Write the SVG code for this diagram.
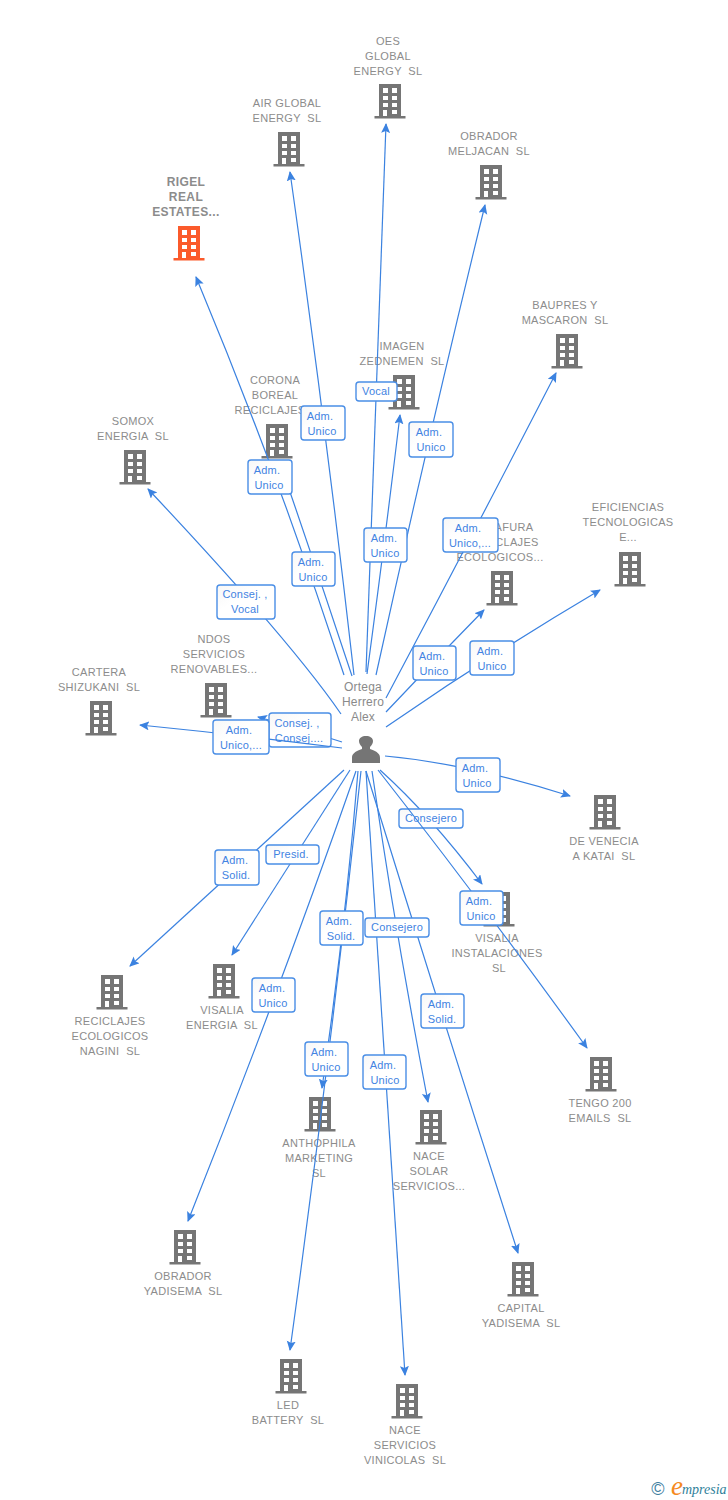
<svg xmlns="http://www.w3.org/2000/svg" width="728" height="1500" viewBox="0 0 728 1500">
<style>
text{font-family:"Liberation Sans",Arial,sans-serif}
.n{font-size:11px;fill:#8c8c8c;text-anchor:middle;letter-spacing:.3px;white-space:pre}
.r{font-size:12px;font-weight:bold;fill:#8c8c8c;text-anchor:middle;letter-spacing:.4px}
.p{font-size:12px;fill:#8a8a8a;text-anchor:middle;letter-spacing:.2px}
.l{fill:none;stroke:#3b82e0;stroke-width:1.2;marker-end:url(#a)}
.b{fill:url(#g);stroke:#4a8ee6;stroke-width:1.4}
.t{font-size:11px;fill:#4283e2;text-anchor:middle;letter-spacing:.2px}
</style>
<defs>
<linearGradient id="g" x1="0" y1="0" x2="1" y2="1"><stop offset="0" stop-color="#f7f7f7"/><stop offset=".4" stop-color="#fff"/></linearGradient>
<marker id="a" markerUnits="userSpaceOnUse" markerWidth="12" markerHeight="10" refX="9" refY="4.5" orient="auto"><path d="M0 0L10 4.5L0 9L2 4.5Z" fill="#3b82e0"/></marker>
<g id="bld">
<path fill-rule="evenodd" d="M-11 0H11V32H15.500V34.500H-15.500V32H-11ZM-7 4V9H-2V4ZM2 4V9H7V4ZM-7 12V16H-2V12ZM2 12V16H7V12ZM-7 19V23H-2V19ZM2 19V23H7V19ZM-7 26V32H-3V26ZM2 26V30H7V26Z"/>
</g>
</defs>
<rect width="728" height="1500" fill="#fff"/>
<g id="nodes">
<g id="n-oes" fill="#757575"><text class="n" x="388" y="45">OES</text><text class="n" x="388" y="60">GLOBAL</text><text class="n" x="388" y="75">ENERGY  SL</text><use href="#bld" x="390" y="84"/></g>
<g id="n-air" fill="#757575"><text class="n" x="287" y="107">AIR GLOBAL</text><text class="n" x="287" y="122">ENERGY  SL</text><use href="#bld" x="289" y="132"/></g>
<g id="n-meljacan" fill="#757575"><text class="n" x="489" y="140">OBRADOR</text><text class="n" x="489" y="155">MELJACAN  SL</text><use href="#bld" x="491" y="165"/></g>
<g id="n-rigel" fill="#fb5a2b"><text class="r" x="186" y="186">RIGEL</text><text class="r" x="186" y="201">REAL</text><text class="r" x="186" y="216">ESTATES...</text><use href="#bld" x="189" y="226"/></g>
<g id="n-baupres" fill="#757575"><text class="n" x="565" y="309">BAUPRES Y</text><text class="n" x="565" y="324">MASCARON  SL</text><use href="#bld" x="567" y="334"/></g>
<g id="n-imagen" fill="#757575"><text class="n" x="402" y="350">IMAGEN</text><text class="n" x="402" y="365">ZEDNEMEN  SL</text><use href="#bld" x="404" y="375"/></g>
<g id="n-corona" fill="#757575"><text class="n" x="275" y="384">CORONA</text><text class="n" x="275" y="399">BOREAL</text><text class="n" x="270" y="414">RECICLAJES</text><use href="#bld" x="277" y="424"/></g>
<g id="n-somox" fill="#757575"><text class="n" x="133" y="425">SOMOX</text><text class="n" x="133" y="440">ENERGIA  SL</text><use href="#bld" x="135" y="450"/></g>
<g id="n-afura" fill="#757575"><text class="n" x="514" y="531">AFURA</text><text class="n" x="517" y="546">CLAJES</text><text class="n" x="500" y="561">ECOLOGICOS...</text><use href="#bld" x="502" y="571"/></g>
<g id="n-eficiencias" fill="#757575"><text class="n" x="628" y="511">EFICIENCIAS</text><text class="n" x="628" y="526">TECNOLOGICAS</text><text class="n" x="628" y="541">E...</text><use href="#bld" x="630" y="552"/></g>
<g id="n-ndos" fill="#757575"><text class="n" x="214" y="643">NDOS</text><text class="n" x="214" y="658">SERVICIOS</text><text class="n" x="214" y="673">RENOVABLES...</text><use href="#bld" x="216" y="683"/></g>
<g id="n-cartera" fill="#757575"><text class="n" x="99" y="676">CARTERA</text><text class="n" x="99" y="691">SHIZUKANI  SL</text><use href="#bld" x="101" y="701"/></g>
<g id="n-venecia" fill="#757575"><use href="#bld" x="605" y="795"/><text class="n" x="604" y="845">DE VENECIA</text><text class="n" x="604" y="860">A KATAI  SL</text></g>
<g id="n-visalia-inst" fill="#757575"><use href="#bld" x="499" y="892"/><text class="n" x="497" y="942">VISALIA</text><text class="n" x="497" y="957">INSTALACIONES</text><text class="n" x="499" y="972">SL</text></g>
<g id="n-nagini" fill="#757575"><use href="#bld" x="112" y="975"/><text class="n" x="110" y="1025">RECICLAJES</text><text class="n" x="110" y="1040">ECOLOGICOS</text><text class="n" x="110" y="1055">NAGINI  SL</text></g>
<g id="n-visalia-en" fill="#757575"><use href="#bld" x="224" y="964"/><text class="n" x="222" y="1014">VISALIA</text><text class="n" x="222" y="1029">ENERGIA  SL</text></g>
<g id="n-tengo" fill="#757575"><use href="#bld" x="601" y="1057"/><text class="n" x="600" y="1107">TENGO 200</text><text class="n" x="600" y="1122">EMAILS  SL</text></g>
<g id="n-anthophila" fill="#757575"><use href="#bld" x="320" y="1097"/><text class="n" x="319" y="1147">ANTHOPHILA</text><text class="n" x="319" y="1162">MARKETING</text><text class="n" x="319" y="1177">SL</text></g>
<g id="n-nace-solar" fill="#757575"><use href="#bld" x="431" y="1110"/><text class="n" x="429" y="1160">NACE</text><text class="n" x="429" y="1175">SOLAR</text><text class="n" x="429" y="1190">SERVICIOS...</text></g>
<g id="n-obrador-yad" fill="#757575"><use href="#bld" x="185" y="1230"/><text class="n" x="183" y="1280">OBRADOR</text><text class="n" x="183" y="1295">YADISEMA  SL</text></g>
<g id="n-capital" fill="#757575"><use href="#bld" x="523" y="1262"/><text class="n" x="521" y="1312">CAPITAL</text><text class="n" x="521" y="1327">YADISEMA  SL</text></g>
<g id="n-led" fill="#757575"><use href="#bld" x="291" y="1359"/><text class="n" x="288" y="1409">LED</text><text class="n" x="288" y="1424">BATTERY  SL</text></g>
<g id="n-nace-vin" fill="#757575"><use href="#bld" x="407" y="1384"/><text class="n" x="405" y="1434">NACE</text><text class="n" x="405" y="1449">SERVICIOS</text><text class="n" x="405" y="1464">VINICOLAS  SL</text></g>
<g id="n-ortega" fill="#757575"><text class="p" x="363" y="691">Ortega</text><text class="p" x="363" y="706">Herrero</text><text class="p" x="363" y="721">Alex</text>
<path d="M352 763V758C352 754 354 752 362 749V747C360 745 359 743 359 741C359 738 362 736 366 736C370 736 373 738 373 741C373 743 372 745 370 747V749C378 752 380 754 380 758V763Z"/></g>
</g>
<g id="connectors">
<path class="l" d="M366 672Q375 400 386 124"/>
<path class="l" d="M354 675Q325 420 290 172"/>
<path class="l" d="M376 675Q430 430 485 205"/>
<path class="l" d="M344 675Q279 476 196 277"/>
<path class="l" d="M386 698Q470 540 556 373"/>
<path class="l" d="M367 674Q385 540 400 415"/>
<path class="l" d="M352 676Q317 570 280 463"/>
<path class="l" d="M341 714Q290 640 148 489"/>
<path class="l" d="M386 712Q435 660 484 610"/>
<path class="l" d="M386 727Q490 655 600 590"/>
<path class="l" d="M342 742Q300 728 258 717"/>
<g id="labels-a">
<rect class="b" x="356" y="382" width="41" height="19" rx="3"/><text class="t" x="376" y="395">Vocal</text>
<rect class="b" x="301" y="406" width="44" height="34" rx="3"/><text class="t" x="320" y="420">Adm.</text><text class="t" x="322" y="435">Unico</text>
<rect class="b" x="248" y="460" width="44" height="34" rx="3"/><text class="t" x="267" y="474">Adm.</text><text class="t" x="269" y="489">Unico</text>
<rect class="b" x="409" y="422" width="44" height="35" rx="3"/><text class="t" x="429" y="436">Adm.</text><text class="t" x="431" y="451">Unico</text>
<rect class="b" x="364" y="528" width="43" height="34" rx="3"/><text class="t" x="384" y="542">Adm.</text><text class="t" x="385" y="557">Unico</text>
<rect class="b" x="292" y="552" width="43" height="34" rx="3"/><text class="t" x="311" y="566">Adm.</text><text class="t" x="313" y="581">Unico</text>
<rect class="b" x="443" y="518" width="55" height="34" rx="3"/><text class="t" x="468" y="532">Adm.</text><text class="t" x="470" y="547">Unico,...</text>
<rect class="b" x="217" y="585" width="58" height="34" rx="3"/><text class="t" x="245" y="598">Consej. ,</text><text class="t" x="245" y="613">Vocal</text>
<rect class="b" x="413" y="646" width="43" height="34" rx="3"/><text class="t" x="432" y="660">Adm.</text><text class="t" x="434" y="675">Unico</text>
<rect class="b" x="470" y="641" width="44" height="34" rx="3"/><text class="t" x="490" y="655">Adm.</text><text class="t" x="492" y="670">Unico</text>
<rect class="b" x="269" y="713" width="62" height="34" rx="3"/><text class="t" x="297" y="727">Consej. ,</text><text class="t" x="299" y="742">Consej....</text>
</g>
<path class="l" d="M342 748Q240 735 140 725"/>
<path class="l" d="M385 756Q470 764 570 796"/>
<path class="l" d="M380 770Q430 815 482 884"/>
<path class="l" d="M344 770L130 966"/>
<path class="l" d="M350 770L232 955"/>
<path class="l" d="M358 771Q345 930 322 1088"/>
<path class="l" d="M372 771Q395 930 428 1102"/>
<path class="l" d="M356 771Q280 990 188 1221"/>
<path class="l" d="M366 771Q440 1010 518 1253"/>
<path class="l" d="M361 771Q330 1060 290 1350"/>
<path class="l" d="M366 771Q385 1070 405 1375"/>
<g id="labels-b">
<rect class="b" x="213" y="720" width="56" height="34" rx="3"/><text class="t" x="239" y="734">Adm.</text><text class="t" x="241" y="749">Unico,...</text>
<rect class="b" x="456" y="758" width="44" height="34" rx="3"/><text class="t" x="475" y="772">Adm.</text><text class="t" x="477" y="787">Unico</text>
<rect class="b" x="399" y="809" width="64" height="19" rx="3"/><text class="t" x="431" y="822">Consejero</text>
</g>
<path class="l" d="M378 770Q480 900 587 1048"/>
<g id="labels-c">
<rect class="b" x="460" y="891" width="43" height="34" rx="3"/><text class="t" x="479" y="905">Adm.</text><text class="t" x="481" y="920">Unico</text>
<rect class="b" x="266" y="845" width="53" height="19" rx="3"/><text class="t" x="291" y="858">Presid.</text>
<rect class="b" x="215" y="850" width="44" height="35" rx="3"/><text class="t" x="235" y="864">Adm.</text><text class="t" x="236" y="879">Solid.</text>
<rect class="b" x="320" y="911" width="43" height="34" rx="3"/><text class="t" x="339" y="925">Adm.</text><text class="t" x="341" y="940">Solid.</text>
<rect class="b" x="365" y="918" width="64" height="19" rx="3"/><text class="t" x="397" y="931">Consejero</text>
<rect class="b" x="421" y="994" width="43" height="34" rx="3"/><text class="t" x="441" y="1008">Adm.</text><text class="t" x="442" y="1023">Solid.</text>
<rect class="b" x="252" y="978" width="43" height="34" rx="3"/><text class="t" x="272" y="992">Adm.</text><text class="t" x="273" y="1007">Unico</text>
<rect class="b" x="305" y="1042" width="43" height="34" rx="3"/><text class="t" x="324" y="1056">Adm.</text><text class="t" x="326" y="1071">Unico</text>
<rect class="b" x="363" y="1055" width="43" height="34" rx="3"/><text class="t" x="383" y="1069">Adm.</text><text class="t" x="385" y="1084">Unico</text>
</g>
</g>
<g id="logo">
<text x="658" y="1495" font-size="18" fill="#3f7f9f" text-anchor="middle">©</text>
<text x="671" y="1495" font-size="27" font-style="italic" fill="#f58a1f" style="font-family:'Liberation Serif',serif">e</text>
<text x="682" y="1494" font-size="14" font-style="italic" fill="#2f7f9a" style="font-family:'Liberation Serif',serif">mpresia</text>
</g>
</svg>
